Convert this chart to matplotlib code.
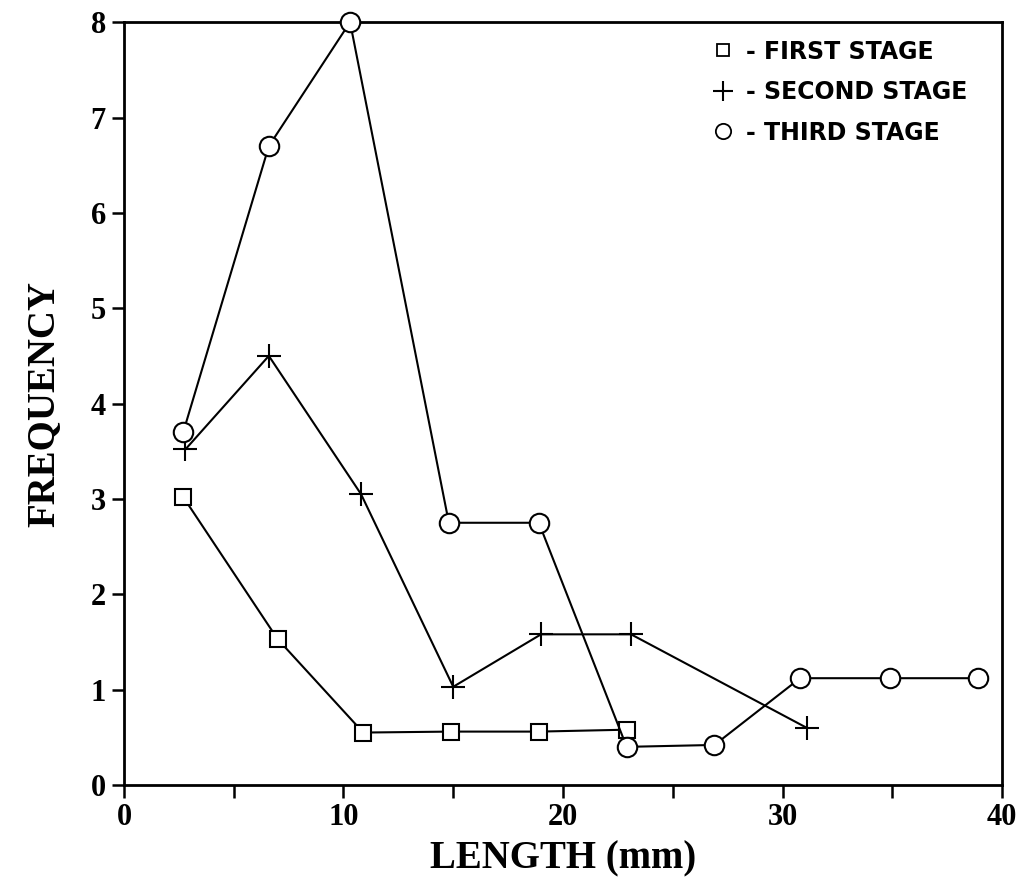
import numpy as np
import matplotlib.pyplot as plt
from matplotlib.lines import Line2D

# values
first_x = [2.7, 7.0, 10.9, 14.9, 18.9, 22.9]
first_y = [3.02, 1.53, 0.55, 0.56, 0.56, 0.58]

second_x = [2.8, 6.6, 10.8, 15.0, 19.0, 23.1, 31.1]
second_y = [3.52, 4.5, 3.05, 1.03, 1.58, 1.58, 0.6]

third_x = [2.7, 6.6, 10.3, 14.8, 18.9, 22.9, 26.9, 30.8, 34.9, 38.9]
third_y = [3.7, 6.7, 8.0, 2.75, 2.75, 0.4, 0.42, 1.12, 1.12, 1.12]

labels = ['- FIRST STAGE', '- SECOND STAGE', '- THIRD STAGE']

serif = ['Liberation Serif', 'DejaVu Serif']
sans = ['DejaVu Sans']

fig = plt.figure(figsize=(10.27, 8.86), dpi=100)
ax = fig.add_axes([0.1207, 0.114, 0.855, 0.861])

line_kw = dict(color='black', lw=1.5, mfc='white', mec='black', mew=1.5, clip_on=False, zorder=3)
ax.plot(first_x, first_y, marker='s', ms=11, **line_kw)
ax.plot(second_x, second_y, marker='+', ms=17, **line_kw)
ax.plot(third_x, third_y, marker='o', ms=14, **line_kw)

ax.set_xlim(0, 40)
ax.set_ylim(0, 8)
ax.set_xticks(np.arange(0, 41, 5))
ax.set_xticklabels(['0', '', '10', '', '20', '', '30', '', '40'])
ax.set_yticks(np.arange(0, 9, 1))

for s in ax.spines.values():
    s.set_linewidth(2)
ax.tick_params(direction='out', length=9, width=1.8, pad=4)
for lab in ax.get_xticklabels() + ax.get_yticklabels():
    lab.set_family(serif)
    lab.set_fontsize(22)
    lab.set_fontweight('bold')

ax.set_xlabel('LENGTH (mm)', family=serif, fontsize=28, fontweight='bold', labelpad=6)
ax.set_ylabel('FREQUENCY', family=serif, fontsize=28, fontweight='bold', labelpad=20)

handles = [
    Line2D([], [], ls='none', marker='s', ms=9, mfc='white', mec='black', mew=1.3),
    Line2D([], [], ls='none', marker='+', ms=14, mec='black', mew=1.5),
    Line2D([], [], ls='none', marker='o', ms=11, mfc='white', mec='black', mew=1.3),
]
leg = ax.legend(handles, labels, loc='upper right', frameon=False,
                bbox_to_anchor=(0.985, 1.005), handlelength=0.8, handletextpad=0.6,
                labelspacing=0.7, prop={'family': sans, 'size': 17, 'weight': 'bold'})

fig.savefig('out.png', dpi=100)
